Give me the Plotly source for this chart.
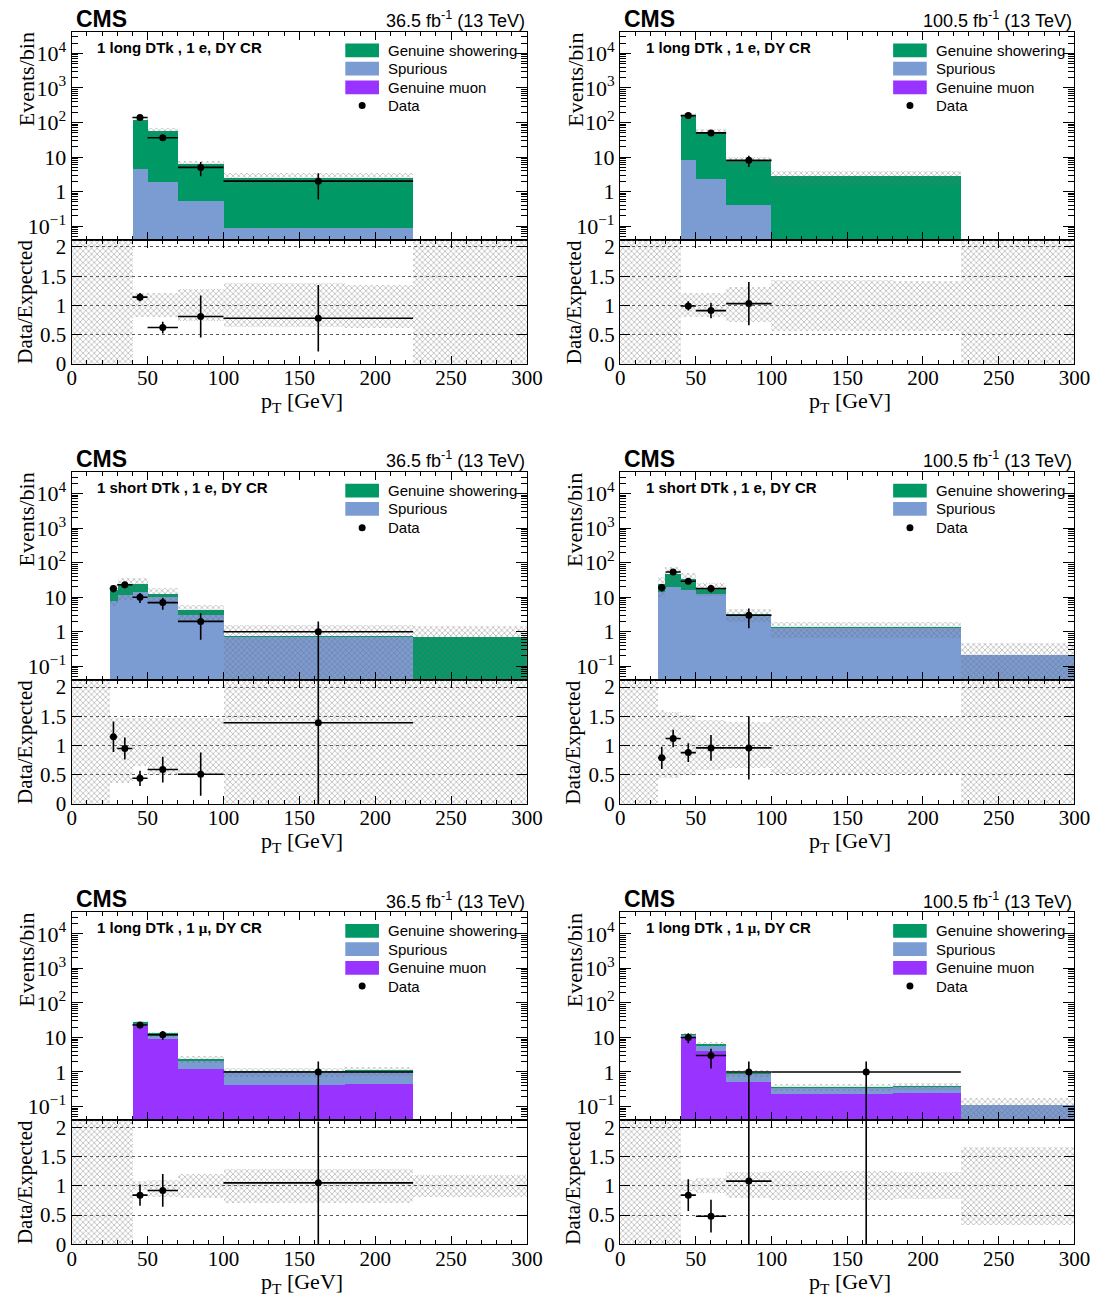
import math
import plotly.graph_objects as go

# ---------------- data ----------------
EDGES_LONG = [0, 40, 50, 70, 100, 180, 225, 300]
EDGES_SHORT = [0, 25, 30, 40, 50, 70, 100, 180, 225, 300]

# Panel A: 1 long DTk, 1 e, 36.5 fb-1
A_showering = [0, 120, 56, 5.7, 2.5, 2.5, 0]
A_spurious = [0, 4.5, 1.9, 0.55, 0.09, 0.09, 0]
A_muon = [0, 0, 0, 0, 0, 0, 0]
A_band_lo = [0, 0.80, 0.80, 0.73, 0.63, 0.61, 0]
A_band_hi = [2.2, 1.22, 1.22, 1.28, 1.38, 1.35, 2.2]
A_data_x = [45, 60, 85, 162.5]
A_data_xerr = [5, 10, 15, 62.5]
A_data_y = [140, 36, 5, 2]
A_ratio = [1.14, 0.62, 0.81, 0.78]
A_ratio_err = [0.07, 0.10, 0.36, 0.57]

# Panel B: 1 long DTk, 1 e, 100.5 fb-1
B_showering = [0, 152, 52.7, 7.4, 2.8, 2.8, 0]
B_spurious = [0, 8.3, 2.3, 0.43, 0, 0, 0]
B_muon = [0, 0, 0, 0, 0, 0, 0]
B_band_lo = [0, 0.80, 0.80, 0.72, 0.57, 0.56, 0]
B_band_hi = [2.2, 1.22, 1.22, 1.31, 1.43, 1.41, 2.2]
B_data_x = [45, 60, 85]
B_data_xerr = [5, 10, 15]
B_data_y = [158, 50, 8]
B_ratio = [0.99, 0.91, 1.03]
B_ratio_err = [0.08, 0.13, 0.37]

# Panel C: 1 short DTk, 1 e, 36.5 fb-1
C_showering = [0, 8, 12, 10, 2.5, 1.2, 0.02, 0.02, 0.69]
C_spurious = [0, 8, 12, 14, 10, 3.0, 0.72, 0.72, 0]
C_muon = [0, 0, 0, 0, 0, 0, 0, 0, 0]
C_band_lo = [0, 0.35, 0.35, 0.64, 0.50, 0.50, 0, 0, 0]
C_band_hi = [2.2, 1.47, 1.47, 1.47, 1.47, 1.47, 2.2, 2.2, 2.2]
C_data_x = [27.5, 35, 45, 60, 85, 162.5]
C_data_xerr = [2.5, 5, 5, 10, 15, 62.5]
C_data_y = [18, 23, 10, 7, 2, 1]
C_ratio = [1.15, 0.95, 0.44, 0.59, 0.51, 1.39]
C_ratio_err = [0.26, 0.19, 0.13, 0.22, 0.37, 1.39]

# Panel D: 1 short DTk, 1 e, 100.5 fb-1
D_showering = [0, 10, 29, 17, 6, 0.1, 0.01, 0.01, 0]
D_spurious = [0, 14, 20, 16, 12.5, 3.1, 1.3, 1.3, 0.22]
D_muon = [0, 0, 0, 0, 0, 0, 0, 0, 0]
D_band_lo = [0, 0.44, 0.44, 0.50, 0.58, 0.61, 0.51, 0.51, 0]
D_band_hi = [2.2, 1.60, 1.58, 1.52, 1.43, 1.40, 1.51, 1.51, 2.2]
D_data_x = [27.5, 35, 45, 60, 85]
D_data_xerr = [2.5, 5, 5, 10, 15]
D_data_y = [19, 54, 29, 18, 3]
D_ratio = [0.79, 1.12, 0.88, 0.96, 0.96]
D_ratio_err = [0.19, 0.15, 0.16, 0.22, 0.54]

# Panel E: 1 long DTk, 1 mu, 36.5 fb-1
E_showering = [0, 3, 1.8, 0.25, 0.02, 0.02, 0]
E_spurious = [0, 3, 2, 0.9, 0.58, 0.61, 0.03]
E_muon = [0, 21, 9.2, 1.25, 0.42, 0.44, 0]
E_band_lo = [0, 0.92, 0.81, 0.78, 0.70, 0.70, 0.81]
E_band_hi = [2.2, 1.08, 1.09, 1.20, 1.29, 1.29, 1.18]
E_data_x = [45, 60, 162.5]
E_data_xerr = [5, 10, 62.5]
E_data_y = [23, 12, 1]
E_ratio = [0.84, 0.92, 1.05]
E_ratio_err = [0.18, 0.28, 1.05]

# Panel F: 1 long DTk, 1 mu, 100.5 fb-1
F_showering = [0, 0.2, 0.7, 0.03, 0.005, 0.005, 0]
F_spurious = [0, 1.8, 1.9, 0.38, 0.13, 0.14, 0.107]
F_muon = [0, 10.5, 4.0, 0.52, 0.23, 0.24, 0]
F_band_lo = [0, 0.90, 0.87, 0.78, 0.75, 0.76, 0.33]
F_band_hi = [2.2, 1.10, 1.12, 1.23, 1.24, 1.23, 1.66]
F_data_x = [45, 60, 85, 162.5]
F_data_xerr = [5, 10, 15, 62.5]
F_data_y = [10, 3, 1, 1]
F_ratio = [0.84, 0.48, 1.08, 2.7]
F_ratio_err = [0.27, 0.28, 1.08, 2.7]

LUMI_LEFT = "36.5 fb<sup>-1</sup> (13 TeV)"
LUMI_RIGHT = "100.5 fb<sup>-1</sup> (13 TeV)"
MU = "<span style='font-family:Liberation Serif'>\u03bc</span>"

PANELS = [
    dict(edges=EDGES_LONG, show=A_showering, spur=A_spurious, muon=A_muon, lo=A_band_lo, hi=A_band_hi,
         dx=A_data_x, dxe=A_data_xerr, dy=A_data_y, r=A_ratio, re=A_ratio_err,
         label="1 long DTk , 1 e, DY CR", lumi=LUMI_LEFT, has_muon=True),
    dict(edges=EDGES_LONG, show=B_showering, spur=B_spurious, muon=B_muon, lo=B_band_lo, hi=B_band_hi,
         dx=B_data_x, dxe=B_data_xerr, dy=B_data_y, r=B_ratio, re=B_ratio_err,
         label="1 long DTk , 1 e, DY CR", lumi=LUMI_RIGHT, has_muon=True),
    dict(edges=EDGES_SHORT, show=C_showering, spur=C_spurious, muon=C_muon, lo=C_band_lo, hi=C_band_hi,
         dx=C_data_x, dxe=C_data_xerr, dy=C_data_y, r=C_ratio, re=C_ratio_err,
         label="1 short DTk , 1 e, DY CR", lumi=LUMI_LEFT, has_muon=False),
    dict(edges=EDGES_SHORT, show=D_showering, spur=D_spurious, muon=D_muon, lo=D_band_lo, hi=D_band_hi,
         dx=D_data_x, dxe=D_data_xerr, dy=D_data_y, r=D_ratio, re=D_ratio_err,
         label="1 short DTk , 1 e, DY CR", lumi=LUMI_RIGHT, has_muon=False),
    dict(edges=EDGES_LONG, show=E_showering, spur=E_spurious, muon=E_muon, lo=E_band_lo, hi=E_band_hi,
         dx=E_data_x, dxe=E_data_xerr, dy=E_data_y, r=E_ratio, re=E_ratio_err,
         label="1 long DTk , 1 " + MU + ", DY CR", lumi=LUMI_LEFT, has_muon=True),
    dict(edges=EDGES_LONG, show=F_showering, spur=F_spurious, muon=F_muon, lo=F_band_lo, hi=F_band_hi,
         dx=F_data_x, dxe=F_data_xerr, dy=F_data_y, r=F_ratio, re=F_ratio_err,
         label="1 long DTk , 1 " + MU + ", DY CR", lumi=LUMI_RIGHT, has_muon=True),
]

# ---------------- style ----------------
W, H = 1110, 1311   # reference frame used for the domain fractions
C_SHOW = "#009966"
C_SPUR = "#7b9bd3"
C_MUON = "#9933ff"
SERIF = "Liberation Serif"
SANS = "Liberation Sans"
FLOOR = 1e-3
HATCH = dict(shape="x", fgcolor="rgb(110,110,110)", bgcolor="rgba(0,0,0,0)", size=4, solidity=0.35)

COL_X = [(68, 532), (627, 1090)]
ROW_Y0 = [0, 446, 892]
TOP_PX = (27, 238)
RAT_PX = (238, 363.5)

fig = go.Figure()
layout = {}
annotations = []
shapes = []

log_minor = [m * 10 ** k for k in range(-2, 5) for m in range(2, 10)]


def axis_common():
    return dict(showline=True, linecolor="black", linewidth=1.3, mirror="allticks",
                ticks="inside", tickcolor="black", tickwidth=1, zeroline=False, showgrid=False)


def sfx(n):
    return "" if n == 1 else str(n)


for i, p in enumerate(PANELS):
    row, col = divmod(i, 2)
    xa_top, xa_rat = 2 * i + 1, 2 * i + 2
    x0px, x1px = COL_X[col]
    off = ROW_Y0[row]
    xdom = [x0px / W, x1px / W]
    top_dom = [1 - (TOP_PX[1] + off) / H, 1 - (TOP_PX[0] + off) / H]
    rat_dom = [1 - (RAT_PX[1] + off) / H, 1 - (RAT_PX[0] + off) / H]

    xt, yt = "x" + sfx(xa_top), "y" + sfx(xa_top)
    xr, yr = "x" + sfx(xa_rat), "y" + sfx(xa_rat)

    e = p["edges"]
    centers = [(e[k] + e[k + 1]) / 2 for k in range(len(e) - 1)]
    widths = [e[k + 1] - e[k] for k in range(len(e) - 1)]

    # stacked histogram: muon (bottom), spurious, showering (top)
    cum = [0.0] * len(centers)
    for vals, colr in [(p["muon"], C_MUON), (p["spur"], C_SPUR), (p["show"], C_SHOW)]:
        bx, bw, by, bb = [], [], [], []
        for k, v in enumerate(vals):
            if v > 0:
                bx.append(centers[k]); bw.append(widths[k])
                b = cum[k] if cum[k] > 0 else FLOOR
                bb.append(b); by.append(cum[k] + v - b)
            cum[k] += v
        if bx:
            fig.add_trace(go.Bar(x=bx, y=by, base=bb, width=bw, xaxis=xt, yaxis=yt,
                                 marker=dict(color=colr, line=dict(width=0)), showlegend=False))
    total = cum

    # uncertainty hatch in top panel
    hx, hw, hb, hy = [], [], [], []
    for k, t in enumerate(total):
        if t > 0:
            lo = max(t * p["lo"][k], FLOOR)
            hx.append(centers[k]); hw.append(widths[k]); hb.append(lo); hy.append(t * p["hi"][k] - lo)
    fig.add_trace(go.Bar(x=hx, y=hy, base=hb, width=hw, xaxis=xt, yaxis=yt,
                         marker=dict(color="rgba(0,0,0,0)", line=dict(width=0), pattern=HATCH),
                         showlegend=False))

    # data in top panel
    dy_minus = [min(math.sqrt(v), v * 0.999) for v in p["dy"]]
    fig.add_trace(go.Scatter(x=p["dx"], y=p["dy"], xaxis=xt, yaxis=yt, mode="markers",
                             marker=dict(color="black", size=7),
                             error_x=dict(type="data", array=p["dxe"], width=0, thickness=1.6, color="black"),
                             error_y=dict(type="data", array=[math.sqrt(v) for v in p["dy"]],
                                          arrayminus=dy_minus, width=0, thickness=1.6, color="black"),
                             showlegend=False))

    # ratio band
    fig.add_trace(go.Bar(x=centers, y=[h - l for h, l in zip(p["hi"], p["lo"])], base=p["lo"], width=widths,
                         xaxis=xr, yaxis=yr,
                         marker=dict(color="rgba(0,0,0,0)", line=dict(width=0), pattern=HATCH),
                         showlegend=False))
    # ratio data
    fig.add_trace(go.Scatter(x=p["dx"], y=p["r"], xaxis=xr, yaxis=yr, mode="markers",
                             marker=dict(color="black", size=7),
                             error_x=dict(type="data", array=p["dxe"], width=0, thickness=1.6, color="black"),
                             error_y=dict(type="data", array=p["re"], width=0, thickness=1.6, color="black"),
                             showlegend=False))

    # axes
    ax = axis_common()
    ax.update(domain=xdom, range=[0, 300], anchor=yt, tickvals=[0, 50, 100, 150, 200, 250, 300],
              showticklabels=False, ticklen=8,
              minor=dict(ticks="inside", ticklen=4, dtick=10, tick0=0, tickcolor="black"))
    layout["xaxis" + sfx(xa_top)] = ax

    ay = axis_common()
    ay.update(domain=top_dom, type="log", range=[-1.4, 4.63], anchor=xt,
              tickmode="array", tickvals=[0.1, 1, 10, 100, 1000, 10000],
              ticktext=["10<sup>\u22121</sup>", "1", "10", "10<sup>2</sup>", "10<sup>3</sup>", "10<sup>4</sup>"],
              ticklen=11, tickfont=dict(family=SERIF, size=22, color="black"),
              minor=dict(ticks="inside", ticklen=6, tickmode="array", tickvals=log_minor, tickcolor="black"))
    layout["yaxis" + sfx(xa_top)] = ay

    axr = axis_common()
    axr.update(domain=xdom, range=[0, 300], anchor=yr, tickvals=[0, 50, 100, 150, 200, 250, 300],
               ticklen=8, tickfont=dict(family=SERIF, size=21, color="black"), ticklabelstandoff=-5,
               minor=dict(ticks="inside", ticklen=4, dtick=10, tick0=0, tickcolor="black"))
    layout["xaxis" + sfx(xa_rat)] = axr

    ayr = axis_common()
    ayr.update(domain=rat_dom, range=[0, 2.12], anchor=xr, tickvals=[0, 0.5, 1, 1.5, 2],
               ticktext=["0", "0.5", "1", "1.5", "2"], ticklen=10,
               tickfont=dict(family=SERIF, size=21, color="black"),
               showgrid=True, gridcolor="rgb(90,90,90)", griddash="dot", gridwidth=1)
    layout["yaxis" + sfx(xa_rat)] = ayr

    xd, ydt, ydr = xt + " domain", yt + " domain", yr + " domain"

    annotations += [
        dict(xref=xd, yref=ydt, x=0.004, y=1.062, xanchor="left", yanchor="middle", showarrow=False,
             text="<b>CMS</b>", font=dict(family=SANS, size=23, color="black")),
        dict(xref=xd, yref=ydt, x=1.0, y=1.057, xanchor="right", yanchor="middle", showarrow=False,
             text=p["lumi"], font=dict(family=SANS, size=18, color="black")),
        dict(xref=xd, yref=ydt, x=0.052, y=0.924, xanchor="left", yanchor="middle", showarrow=False,
             text="<b>" + p["label"] + "</b>", font=dict(family=SANS, size=15, color="black")),
        dict(xref=xd, yref=ydt, x=-0.099, y=0.77, xanchor="center", yanchor="middle", showarrow=False,
             textangle=-90, text="Events/bin", font=dict(family=SERIF, size=22, color="black")),
        dict(xref=xd, yref=ydr, x=-0.103, y=0.5, xanchor="center", yanchor="middle", showarrow=False,
             textangle=-90, text="Data/Expected", font=dict(family=SERIF, size=21, color="black")),
        dict(xref=xd, yref=ydr, x=0.506, y=-0.31, xanchor="center", yanchor="middle", showarrow=False,
             text="p<sub>T</sub> [GeV]", font=dict(family=SERIF, size=22, color="black")),
    ]

    entries = [("Genuine showering", C_SHOW), ("Spurious", C_SPUR)]
    if p["has_muon"]:
        entries.append(("Genuine muon", C_MUON))
    entries.append(("Data", None))
    rows_y = [0.910, 0.822, 0.732, 0.645]
    for j, (name, colr) in enumerate(entries):
        yy = rows_y[j]
        if colr:
            shapes.append(dict(type="rect", xref=xd, yref=ydt, x0=0.601, x1=0.675, y0=yy - 0.033, y1=yy + 0.033,
                               fillcolor=colr, line=dict(width=0)))
        else:
            shapes.append(dict(type="circle", xref=xd, yref=ydt, xsizemode="pixel", ysizemode="pixel",
                               xanchor=0.638, yanchor=yy, x0=-3.5, x1=3.5, y0=-3.5, y1=3.5,
                               fillcolor="black", line=dict(width=0)))
        annotations.append(dict(xref=xd, yref=ydt, x=0.690, y=yy, xanchor="left", yanchor="middle",
                                showarrow=False, text=name, font=dict(family=SANS, size=15, color="black")))

fig.update_layout(autosize=True, margin=dict(l=0, r=0, t=0, b=0), paper_bgcolor="white",
                  plot_bgcolor="rgba(0,0,0,0)", barmode="overlay", bargap=0, showlegend=False,
                  annotations=annotations, shapes=shapes, **layout)
fig.write_html(
    "out.html",
    default_width="100vw",
    default_height="100vh",
    config={"displayModeBar": False, "responsive": True},
    post_script=("document.documentElement.style.margin='0px';document.body.style.margin='0px';"
                 "document.body.style.overflow='hidden';"
                 "Plotly.Plots.resize(document.getElementById('{plot_id}'));"),
)
